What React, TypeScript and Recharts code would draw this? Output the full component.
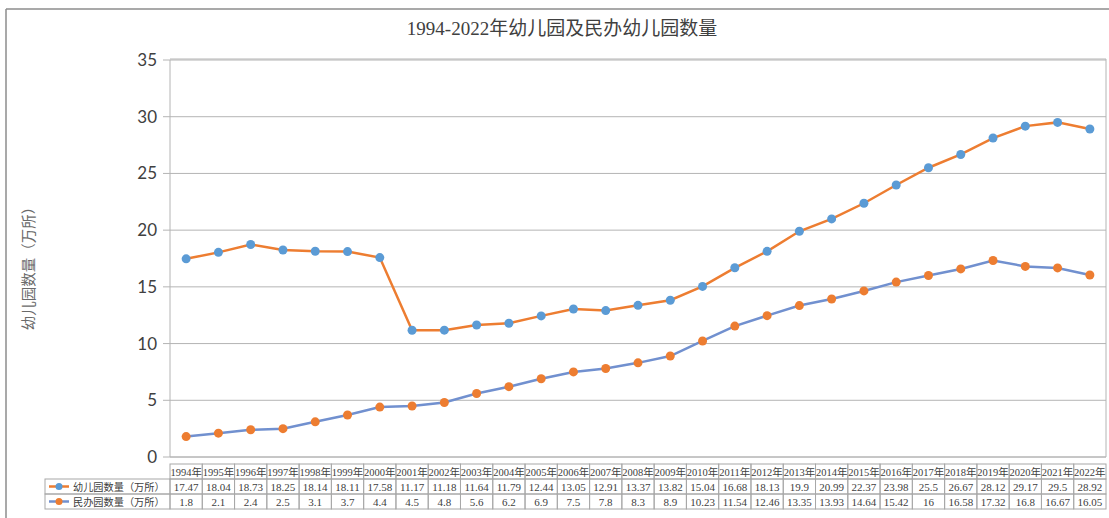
import { LineChart, Line, XAxis, YAxis, CartesianGrid } from "recharts";

const years = [
  "1994年", "1995年", "1996年", "1997年", "1998年", "1999年", "2000年", "2001年", "2002年", "2003年",
  "2004年", "2005年", "2006年", "2007年", "2008年", "2009年", "2010年", "2011年", "2012年", "2013年",
  "2014年", "2015年", "2016年", "2017年", "2018年", "2019年", "2020年", "2021年", "2022年",
];

const kindergartens = [
  17.47, 18.04, 18.73, 18.25, 18.14, 18.11, 17.58, 11.17, 11.18, 11.64,
  11.79, 12.44, 13.05, 12.91, 13.37, 13.82, 15.04, 16.68, 18.13, 19.9,
  20.99, 22.37, 23.98, 25.5, 26.67, 28.12, 29.17, 29.5, 28.92,
];

const privateKgs = [
  1.8, 2.1, 2.4, 2.5, 3.1, 3.7, 4.4, 4.5, 4.8, 5.6,
  6.2, 6.9, 7.5, 7.8, 8.3, 8.9, 10.23, 11.54, 12.46, 13.35,
  13.93, 14.64, 15.42, 16, 16.58, 17.32, 16.8, 16.67, 16.05,
];

const yTicks = [0, 5, 10, 15, 20, 25, 30, 35];

const seriesNames = ["幼儿园数量（万所）", "民办园数量（万所）"];

const data = years.map((y, i) => ({ year: y, kg: kindergartens[i], pk: privateKgs[i] }));

const ORANGE = "#ED7D31";
const BLUE = "#5B9BD5";
const BLUE_LINE = "#7190CF";
const GRID = "#b4b4b4";
const TABLE_LINE = "#a8a8a8";
const serif = "'Liberation Serif', 'Noto Sans CJK SC', serif";

const W = 1109;
const H = 518;
const PLOT_LEFT = 170;
const PLOT_RIGHT = 1106;
const PLOT_TOP = 60;
const PLOT_BOTTOM = 457;
const COL_W = (PLOT_RIGHT - PLOT_LEFT) / years.length;
const ROW_Y = [464, 479, 494, 509];

// draws one column of the data table under each category
const TableTick = (props: any) => {
  const { x, payload, index } = props;
  const left = x - COL_W / 2;
  const cells = [payload.value, String(kindergartens[index]), String(privateKgs[index])];
  return (
    <g>
      {cells.map((c, r) => (
        <g key={r}>
          <rect
            x={left}
            y={ROW_Y[r]}
            width={COL_W}
            height={ROW_Y[r + 1] - ROW_Y[r]}
            fill="none"
            stroke={TABLE_LINE}
            strokeWidth={1}
          />
          <text
            x={x}
            y={ROW_Y[r] + 11.5}
            textAnchor="middle"
            fontSize={r === 0 ? 10.5 : 11}
            fontFamily={serif}
            fill="#404040"
          >
            {c}
          </text>
        </g>
      ))}
    </g>
  );
};

export default function App() {
  return (
    <div style={{ position: "relative", width: W, height: H, background: "#fff" }}>
      <style>{"body{margin:0}"}</style>
      <LineChart
        width={W}
        height={H}
        data={data}
        margin={{ top: PLOT_TOP, right: W - PLOT_RIGHT, bottom: 0, left: 0 }}
        style={{ position: "absolute", left: 0, top: 0 }}
      >
        <CartesianGrid vertical={false} stroke={GRID} strokeWidth={1} />
        <XAxis
          dataKey="year"
          scale="band"
          interval={0}
          height={H - PLOT_BOTTOM}
          axisLine={{ stroke: GRID }}
          tickLine={false}
          tick={<TableTick />}
        />
        <YAxis
          width={PLOT_LEFT}
          domain={[0, 35]}
          ticks={yTicks}
          interval={0}
          tickSize={7}
          tickMargin={6}
          axisLine={{ stroke: GRID }}
          tickLine={{ stroke: GRID }}
          tick={{ fontSize: 17, fill: "#404040", fontFamily: "Lato, 'Noto Sans', sans-serif" }}
        />
        <Line
          dataKey="kg"
          name={seriesNames[0]}
          stroke={ORANGE}
          strokeWidth={2.5}
          dot={{ r: 4.5, fill: BLUE, stroke: BLUE, strokeWidth: 0 }}
          isAnimationActive={false}
        />
        <Line
          dataKey="pk"
          name={seriesNames[1]}
          stroke={BLUE_LINE}
          strokeWidth={2.5}
          dot={{ r: 4.5, fill: ORANGE, stroke: ORANGE, strokeWidth: 0 }}
          isAnimationActive={false}
        />
      </LineChart>
      <svg width={W} height={H} style={{ position: "absolute", left: 0, top: 0, pointerEvents: "none" }}>
        {/* outer frame */}
        <line x1={6} y1={9} x2={W} y2={9} stroke="#8c8c8c" strokeWidth={1.5} />
        <line x1={6} y1={9} x2={6} y2={H} stroke="#8c8c8c" strokeWidth={1.5} />
        {/* plot box */}
        <line x1={PLOT_LEFT} y1={59} x2={PLOT_RIGHT} y2={59} stroke={GRID} />
        <line x1={PLOT_RIGHT} y1={59} x2={PLOT_RIGHT} y2={PLOT_BOTTOM} stroke={GRID} />
        <text x={562} y={35} textAnchor="middle" fontSize={19} fontFamily={serif} fill="#404040">
          1994-2022年幼儿园及民办幼儿园数量
        </text>
        <text
          x={34}
          y={265}
          transform="rotate(-90 34 265)"
          textAnchor="middle"
          fontSize={14.5}
          fontFamily={serif}
          fill="#6a6a6a"
        >
          幼儿园数量（万所）
        </text>
        {/* legend column of the data table */}
        {seriesNames.map((n, r) => {
          const top = ROW_Y[r + 1];
          const mid = top + 7.5;
          const lineC = r === 0 ? ORANGE : BLUE_LINE;
          const dotC = r === 0 ? BLUE : ORANGE;
          return (
            <g key={n}>
              <rect x={45} y={top} width={PLOT_LEFT - 45} height={15} fill="none" stroke={TABLE_LINE} />
              <line x1={49} y1={mid} x2={69} y2={mid} stroke={lineC} strokeWidth={2.5} />
              <circle cx={59} cy={mid} r={3.5} fill={dotC} />
              <text x={73} y={top + 11.5} fontSize={10.2} fontFamily={serif} fill="#404040">
                {n}
              </text>
            </g>
          );
        })}
      </svg>
    </div>
  );
}
